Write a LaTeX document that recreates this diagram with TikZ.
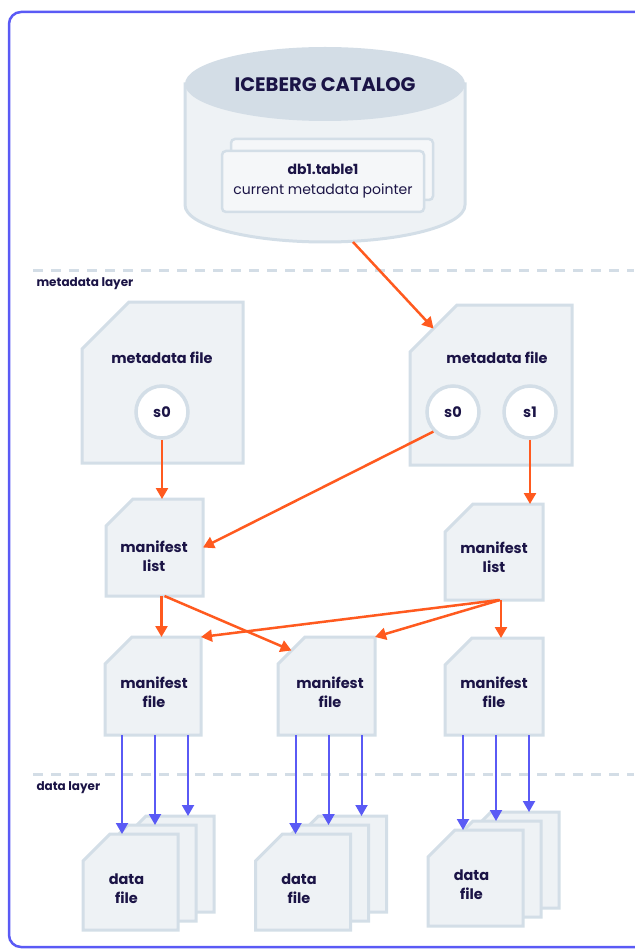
\documentclass[tikz,border=0pt]{standalone}
\usepackage{fontspec}
\setmainfont{Poppins}
\usetikzlibrary{arrows.meta,calc}

\definecolor{ink}{HTML}{1B1446}
\definecolor{edge}{HTML}{D3DEE7}
\definecolor{paper}{HTML}{EEF2F5}
\definecolor{lid}{HTML}{D3DDE6}
\definecolor{flow}{HTML}{FF5A1F}
\definecolor{ref}{HTML}{5A5AF5}

\tikzset{
    docbox/.style={inner sep=0pt, outer sep=0pt},
    docline/.style={draw=edge, fill=paper, line width=3pt, line join=miter},
    lbl/.style={font=\fontsize{14.5}{19}\selectfont\bfseries, text=ink, align=center},
    snap/.style={circle, draw=edge, fill=white, line width=3.5pt, minimum size=52pt,
        inner sep=0pt, font=\fontsize{14.5}{19}\selectfont\bfseries, text=ink},
    ptrbox/.style={draw=edge, fill=paper!60!white, line width=2.5pt, rounded corners=4pt,
        inner sep=0pt, minimum width=202pt, minimum height=61pt},
    layerlbl/.style={anchor=west, font=\fontsize{12}{14}\selectfont\bfseries, text=ink},
    metaarrow/.style={-{Triangle[length=11pt,width=12pt]}, draw=flow, line width=2.5pt},
    dataarrow/.style={-{Triangle[length=11pt,width=12pt]}, draw=ref, line width=2pt},
    sepline/.style={draw=lid, line width=3pt, dash pattern=on 10pt off 8pt},
}

\newcommand{\docfile}[5]{%
    \node[docbox, minimum width=#3, minimum height=#4] (#1) at (#2) {};
    \draw[docline] ([yshift=-#5pt]#1.north west) -- ([xshift=#5pt]#1.north west)
        -- (#1.north east) -- (#1.south east) -- (#1.south west) -- cycle;
    \coordinate (#1-cut) at ([xshift=#5pt/2, yshift=-#5pt/2]#1.north west);
}

\begin{document}
\begin{tikzpicture}[x=1pt, y=-1pt]
    \useasboundingbox (0,0) rectangle (634,949);
    \draw[ref, line width=2.5pt, rounded corners=12pt] (9,12) rectangle (650,947);

    % catalog
    \filldraw[draw=edge, fill=paper, line width=3pt] (185,84) -- (185,205)
        arc (180:0:140 and 37) -- (465,84) -- cycle;
    \fill[lid] (325,84) ellipse (140 and 37);
    \node[font=\fontsize{19.5}{22}\selectfont\bfseries, text=ink] (cat) at (325,85) {ICEBERG CATALOG};
    \node[ptrbox] (ptrback) at (332,169.5) {};
    \node[ptrbox, align=center, text=ink, font=\fontsize{14}{20}\selectfont] (ptr) at (323,181.5)
        {\textbf{db1.table1}\\current metadata pointer};
    \coordinate (catout) at (353,242);

    \draw[sepline] (33,271) -- (634,271);
    \draw[sepline] (33,774) -- (634,774);
    \node[layerlbl] (mlayer) at (33,284) {metadata layer};
    \node[layerlbl] (dlayer) at (33,788) {data layer};

    % metadata files
    \docfile{mdA}{162.5,382.5}{161}{161}{47}
    \docfile{mdB}{491,385}{162}{160}{47}
    \node[lbl] (mdAt) at (162,358) {metadata file};
    \node[lbl] (mdBt) at (497,358) {metadata file};
    \node[snap] (s0a) at (162,412) {s0};
    \node[snap] (s0b) at (453,412) {s0};
    \node[snap] (s1) at (530,412) {s1};

    % manifest lists and files
    \docfile{mlA}{154.5,547.5}{97}{97}{27}
    \docfile{mlB}{494,552}{98}{96}{28}
    \node[lbl] (mlAt) at (154,556) {manifest\\list};
    \node[lbl] (mlBt) at (494,557) {manifest\\list};
    \docfile{mfA}{153,686}{96}{98}{27}
    \docfile{mfB}{326.5,686}{97}{98}{27}
    \docfile{mfC}{494,686.5}{98}{97}{27}
    \foreach \m/\x in {mfA/154, mfB/330, mfC/494}
        \node[lbl] (\m t) at (\x,692) {manifest\\file};

    % data files
    \foreach \g/\x/\y in {1/130.5/882, 2/303/882, 3/475.5/878} {
        \docfile{d\g c}{\x+36,\y-18}{95}{96}{27}
        \docfile{d\g b}{\x+18,\y-9}{95}{96}{27}
        \docfile{d\g a}{\x,\y}{95}{96}{27}
        \node[lbl] (d\g t) at (\x-4,\y+7) {data\\file};
    }

    \draw[metaarrow] (catout) -- (mdB-cut);
    \draw[metaarrow] (s0a.south) -- (s0a.south |- mlA.north);
    \draw[metaarrow] (s0b.south west) -- (mlA.east);
    \draw[metaarrow] (s1.south) -- (s1.south |- mlB.north);
    \draw[metaarrow] ([xshift=7pt]mlA.south) -- ([xshift=7pt]mlA.south |- mfA.north);
    \draw[metaarrow] ([xshift=10pt]mlA.south) -- (mfB-cut);
    \draw[metaarrow] ([xshift=5pt]mlB.south) -- (mfA.north east);
    \draw[metaarrow] ([xshift=6pt]mlB.south) -- (mfB.north east);
    \draw[metaarrow] ([xshift=7pt]mlB.south) -- ([xshift=7pt]mlB.south |- mfC.north);

    \foreach \g/\m in {1/mfA, 2/mfB, 3/mfC} {
        \foreach \dx/\l in {-31/a, 2/b, 35/c}
            \draw[dataarrow] ([xshift=\dx pt]\m.south) -- ([xshift=\dx pt]\m.south |- d\g\l.north);
    }
\end{tikzpicture}
\end{document}
